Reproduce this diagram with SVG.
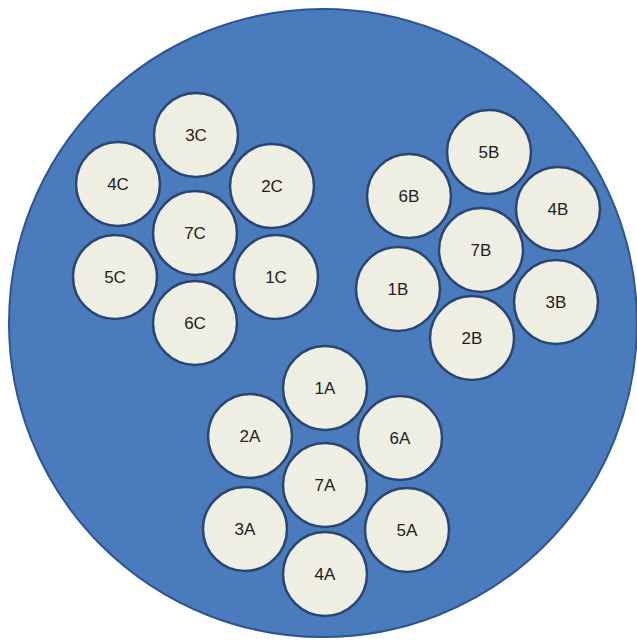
<svg xmlns="http://www.w3.org/2000/svg" width="637" height="642" viewBox="0 0 637 642">
<style>
.bg{fill:#ffffff}
.dish{fill:#4a7bbc;stroke:#2e5590;stroke-width:2}
.n circle{fill:#efeee3;stroke:#2a4670;stroke-width:2.5}
.n text{font-family:"Liberation Sans",Arial,sans-serif;font-size:17px;fill:#222;text-anchor:middle}
</style>
<rect class="bg" x="0" y="0" width="637" height="642"/>
<circle class="dish" cx="323" cy="323" r="314"/>
<g id="n3C" class="n"><circle cx="196" cy="135" r="42"/><text x="196" y="141">3C</text></g>
<g id="n2C" class="n"><circle cx="272" cy="186" r="42"/><text x="272" y="192">2C</text></g>
<g id="n4C" class="n"><circle cx="118" cy="184" r="42"/><text x="118" y="190">4C</text></g>
<g id="n7C" class="n"><circle cx="195" cy="233" r="42"/><text x="195" y="239">7C</text></g>
<g id="n5C" class="n"><circle cx="115" cy="277" r="42"/><text x="115" y="283">5C</text></g>
<g id="n1C" class="n"><circle cx="276" cy="277" r="42"/><text x="276" y="283">1C</text></g>
<g id="n6C" class="n"><circle cx="195" cy="323" r="42"/><text x="195" y="329">6C</text></g>
<g id="n5B" class="n"><circle cx="489" cy="152" r="42"/><text x="489" y="158">5B</text></g>
<g id="n6B" class="n"><circle cx="409" cy="196" r="42"/><text x="409" y="202">6B</text></g>
<g id="n4B" class="n"><circle cx="558" cy="209" r="42"/><text x="558" y="215">4B</text></g>
<g id="n7B" class="n"><circle cx="481" cy="250" r="42"/><text x="481" y="256">7B</text></g>
<g id="n1B" class="n"><circle cx="398" cy="289" r="42"/><text x="398" y="295">1B</text></g>
<g id="n3B" class="n"><circle cx="556" cy="302" r="42"/><text x="556" y="308">3B</text></g>
<g id="n2B" class="n"><circle cx="472" cy="338" r="42"/><text x="472" y="344">2B</text></g>
<g id="n1A" class="n"><circle cx="325" cy="388" r="42"/><text x="325" y="394">1A</text></g>
<g id="n2A" class="n"><circle cx="250" cy="436" r="42"/><text x="250" y="442">2A</text></g>
<g id="n6A" class="n"><circle cx="400" cy="438" r="42"/><text x="400" y="444">6A</text></g>
<g id="n7A" class="n"><circle cx="325" cy="485" r="42"/><text x="325" y="491">7A</text></g>
<g id="n3A" class="n"><circle cx="245" cy="529" r="42"/><text x="245" y="535">3A</text></g>
<g id="n5A" class="n"><circle cx="407" cy="530" r="42"/><text x="407" y="536">5A</text></g>
<g id="n4A" class="n"><circle cx="325" cy="574" r="42"/><text x="325" y="580">4A</text></g>
<g id="connectors"></g>
</svg>
